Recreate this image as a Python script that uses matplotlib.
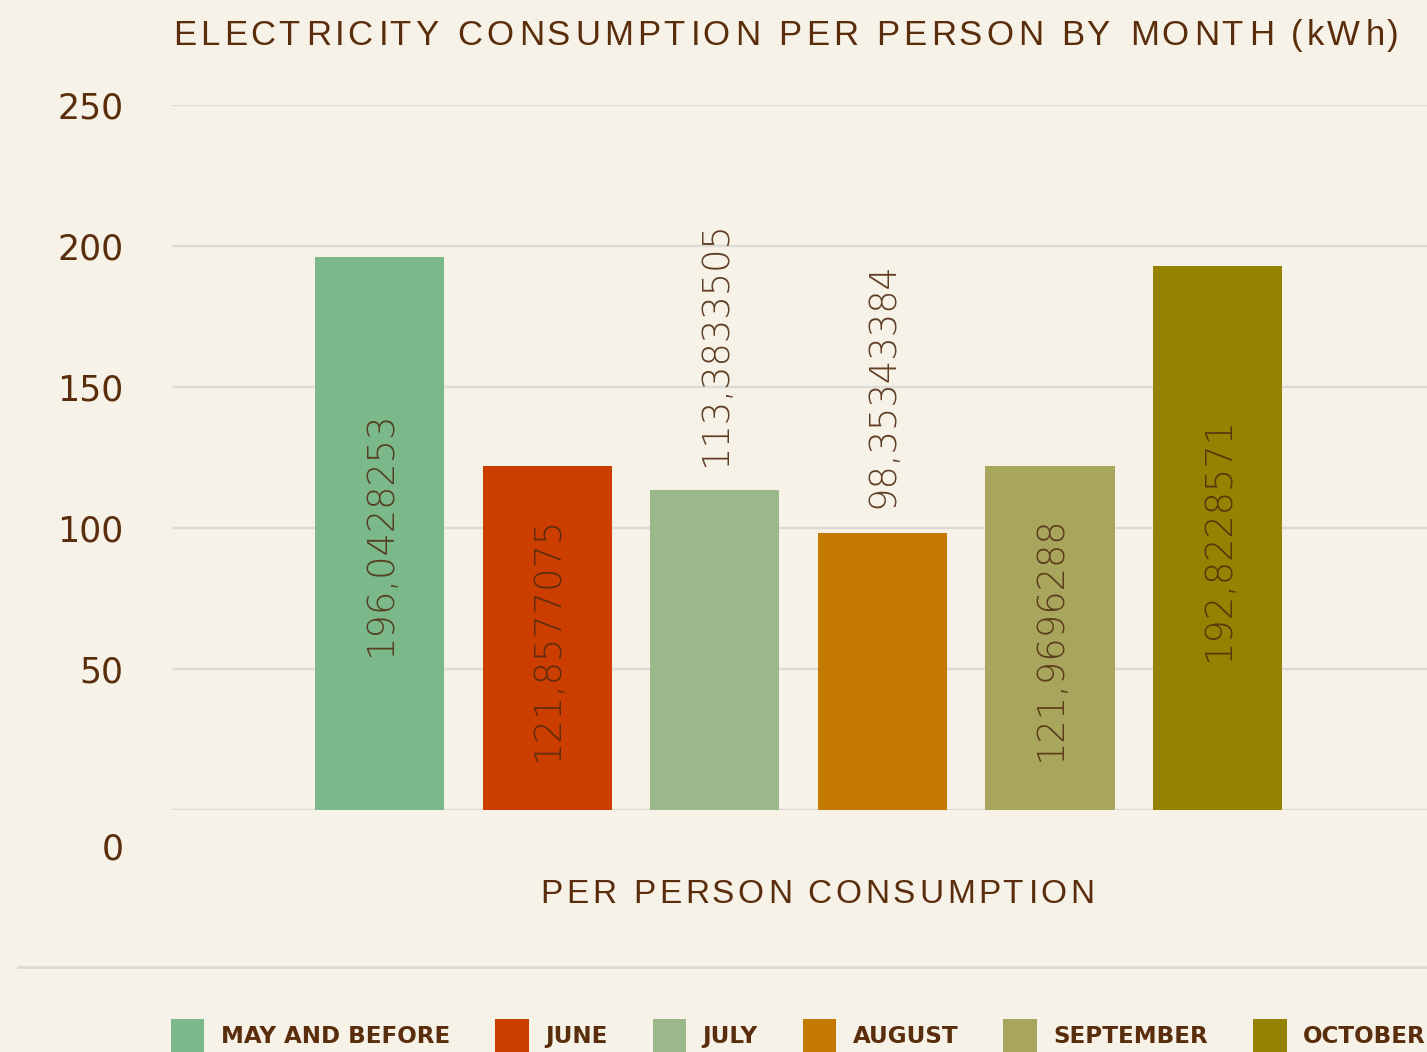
import matplotlib
matplotlib.use("Agg")
import matplotlib.pyplot as plt
from matplotlib.font_manager import FontProperties, findfont
from matplotlib.ft2font import FT2Font
from matplotlib.transforms import IdentityTransform
from matplotlib.lines import Line2D

# data
months = ["MAY AND BEFORE", "JUNE", "JULY", "AUGUST", "SEPTEMBER", "OCTOBER"]
consumption = [196.0428253, 121.8577075, 113.3833505, 98.35343384, 121.9696288, 192.8228571]
value_labels = ["196,0428253", "121,8577075", "113,3833505", "98,35343384", "121,9696288", "192,8228571"]
colors = ["#7bb98a", "#cc3d00", "#9bb88a", "#c47a00", "#a8a65c", "#948200"]
yticks = [0, 50, 100, 150, 200, 250]

BG = "#f6f2e7"
BROWN = "#5a2d0c"
GRID = "#dcdad6"
DPI = 100
W, H = 1427, 1052

fig = plt.figure(figsize=(W / DPI, H / DPI), dpi=DPI, facecolor=BG)
ax = fig.add_axes([172 / W, 1 - 810 / H, 1255 / W, 705 / H])
ax.set_facecolor(BG)

x = list(range(len(months)))
bars = ax.bar(x, consumption, width=0.77, color=colors, label=months, zorder=2)

ax.set_xlim(-1.24, 6.25)
ax.set_ylim(0, 250)
ax.set_yticks(yticks)
ax.set_yticklabels([str(t) if t else "" for t in yticks])
ax.set_xticks([])
ax.tick_params(axis="y", length=0, pad=35, labelsize=25, labelcolor=BROWN)
ax.grid(axis="y", color=GRID, linewidth=1.7)
ax.set_axisbelow(True)
for s in ax.spines.values():
    s.set_visible(False)

# the zero label sits below its gridline
ax.annotate("0", xy=(0, 0), xycoords=("axes fraction", "data"),
            xytext=(-35, -28.5), textcoords="offset points",
            ha="right", va="center", fontsize=25, color=BROWN)

# value labels: inside tall bars, above the short ones
label_font = dict(family="DejaVu Sans", weight="light", size=26.5, color="#4f2a10")
for rect, v, txt in zip(bars, consumption, value_labels):
    cx = rect.get_x() + rect.get_width() / 2
    if v > 115:
        ax.text(cx, v / 2, txt, rotation=90, ha="center", va="center",
                alpha=0.85, zorder=3, **label_font)
    else:
        ax.annotate(txt, xy=(cx, v), xytext=(0, 17.5), textcoords="offset points",
                    rotation=90, ha="center", va="bottom", alpha=0.9, **label_font)


def spaced_text(x_px, baseline_px, s, size, spacing, family, ha="left", **kw):
    # letter-spaced text, placed in pixel coordinates from the top-left
    prop = FontProperties(family=family, size=size)
    font = FT2Font(findfont(prop))
    font.set_size(size, DPI)
    glyphs = [font.load_char(ord(c)) for c in s]
    adv = [g.linearHoriAdvance / 65536 for g in glyphs]
    total = sum(adv) + spacing * (len(s) - 1)
    pen = x_px - total / 2 if ha == "center" else x_px
    for c, g, a in zip(s, glyphs, adv):
        if c != " ":
            fig.text(pen + g.horiBearingX / 64, H - baseline_px, c, fontproperties=prop,
                     transform=IdentityTransform(), ha="left", va="baseline", **kw)
        pen += a + spacing


spaced_text(170, 45, "ELECTRICITY CONSUMPTION PER PERSON BY MONTH (kWh)",
            25, 4.15, "Liberation Sans", color=BROWN)
spaced_text(815, 903, "PER PERSON CONSUMPTION", 24, 3.6, "Liberation Sans",
            ha="center", color=BROWN)

# separator above the legend
fig.add_artist(Line2D([18 / W, 1], [1 - 967 / H] * 2, transform=fig.transFigure,
                      color=GRID, linewidth=2))

leg = fig.legend(handles=bars, labels=months, loc="upper left", ncol=6,
                 bbox_to_anchor=(171 / W, 1 - 1019 / H), frameon=False,
                 prop=FontProperties(family="DejaVu Sans", weight="bold", size=16.6),
                 handlelength=1.45, handleheight=1.9, handletextpad=0.72,
                 columnspacing=1.95, borderpad=0, borderaxespad=0)
for t in leg.get_texts():
    t.set_color(BROWN)

fig.savefig("out.png", dpi=DPI, facecolor=BG)
